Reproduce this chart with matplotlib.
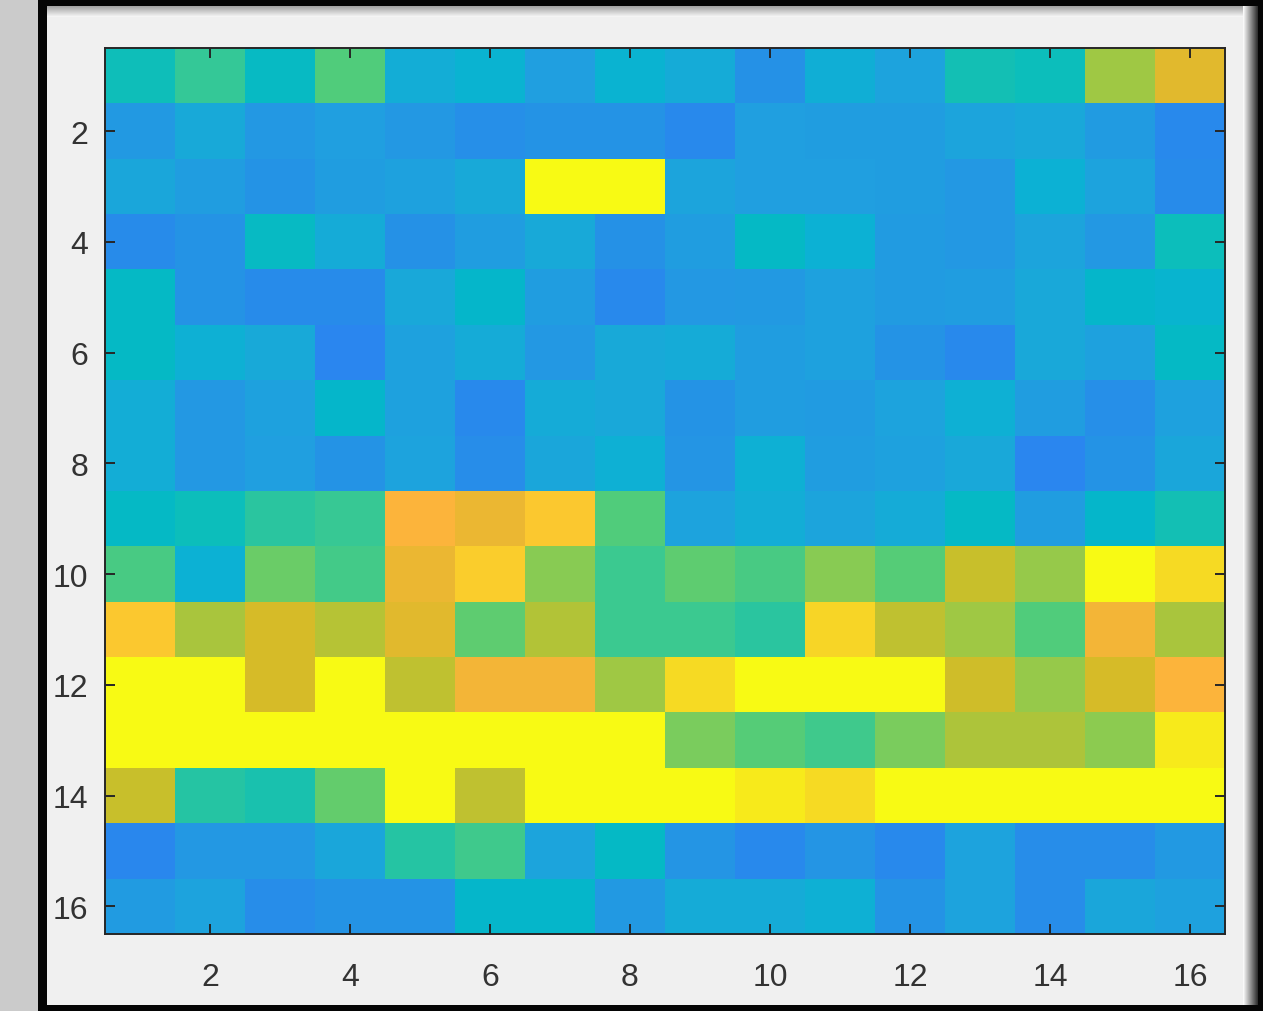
import numpy as np
import matplotlib
matplotlib.use("Agg")
import matplotlib.pyplot as plt
from matplotlib.colors import LinearSegmentedColormap
from matplotlib.patches import Rectangle

# ---- data (16 x 16 matrix, row 1 at top) ----
row01 = [0.35, 0.45, 0.31, 0.52, 0.21, 0.25, 0.13, 0.25, 0.20, 0.06, 0.22, 0.15, 0.37, 0.34, 0.66, 0.82]
row02 = [0.10, 0.19, 0.09, 0.13, 0.09, 0.05, 0.07, 0.07, 0.02, 0.13, 0.12, 0.12, 0.16, 0.18, 0.11, 0.02]
row03 = [0.17, 0.12, 0.07, 0.12, 0.14, 0.19, 1.00, 1.00, 0.16, 0.13, 0.13, 0.12, 0.09, 0.24, 0.15, 0.03]
row04 = [0.03, 0.07, 0.31, 0.20, 0.06, 0.12, 0.19, 0.06, 0.12, 0.30, 0.24, 0.11, 0.09, 0.16, 0.09, 0.34]
row05 = [0.30, 0.07, 0.03, 0.03, 0.18, 0.28, 0.12, 0.02, 0.09, 0.10, 0.14, 0.11, 0.12, 0.18, 0.28, 0.26]
row06 = [0.30, 0.23, 0.19, 0.00, 0.14, 0.20, 0.09, 0.19, 0.20, 0.12, 0.14, 0.07, 0.02, 0.18, 0.14, 0.30]
row07 = [0.21, 0.09, 0.14, 0.28, 0.14, 0.02, 0.20, 0.18, 0.07, 0.12, 0.11, 0.15, 0.23, 0.12, 0.05, 0.14]
row08 = [0.21, 0.09, 0.13, 0.07, 0.15, 0.04, 0.17, 0.23, 0.08, 0.23, 0.12, 0.14, 0.18, 0.00, 0.07, 0.17]
row09 = [0.30, 0.34, 0.43, 0.46, 0.88, 0.84, 0.92, 0.52, 0.15, 0.21, 0.16, 0.20, 0.30, 0.12, 0.28, 0.37]
row10 = [0.50, 0.24, 0.57, 0.49, 0.84, 0.93, 0.61, 0.47, 0.55, 0.50, 0.61, 0.53, 0.75, 0.64, 1.00, 0.96]
row11 = [0.92, 0.68, 0.79, 0.71, 0.82, 0.55, 0.70, 0.47, 0.47, 0.43, 0.95, 0.73, 0.66, 0.52, 0.86, 0.68]
row12 = [1.00, 1.00, 0.79, 1.00, 0.73, 0.86, 0.86, 0.66, 0.96, 1.00, 1.00, 1.00, 0.77, 0.64, 0.79, 0.88]
row13 = [1.00, 1.00, 1.00, 1.00, 1.00, 1.00, 1.00, 1.00, 0.59, 0.53, 0.48, 0.59, 0.69, 0.69, 0.62, 0.98]
row14 = [0.75, 0.42, 0.39, 0.56, 1.00, 0.73, 1.00, 1.00, 1.00, 0.98, 0.96, 1.00, 1.00, 1.00, 1.00, 1.00]
row15 = [0.01, 0.09, 0.09, 0.17, 0.42, 0.48, 0.16, 0.30, 0.08, 0.02, 0.08, 0.02, 0.15, 0.04, 0.04, 0.10]
row16 = [0.11, 0.15, 0.04, 0.07, 0.07, 0.28, 0.28, 0.10, 0.20, 0.20, 0.23, 0.07, 0.15, 0.04, 0.17, 0.14]

ticks = [2, 4, 6, 8, 10, 12, 14, 16]

data = np.array([row01, row02, row03, row04, row05, row06, row07, row08,
                 row09, row10, row11, row12, row13, row14, row15, row16])

# parula-like colormap (upper portion, as seen in the picture)
anchors = [
    (0.00, "#2a86ef"), (0.08, "#2496e4"), (0.13, "#20a0e0"), (0.19, "#18aad8"),
    (0.24, "#0cb2d4"), (0.29, "#04b8c8"), (0.34, "#0cbebc"), (0.40, "#1cc2ac"),
    (0.45, "#34c898"), (0.52, "#50cc7c"), (0.56, "#64cc6c"), (0.61, "#88cc54"),
    (0.66, "#a0c844"), (0.70, "#b2c438"), (0.75, "#c8c02c"), (0.79, "#d6bc28"),
    (0.83, "#e6b830"), (0.88, "#fcb43c"), (0.92, "#fcc830"), (0.96, "#f6da24"),
    (1.00, "#f8fa14"),
]
cmap = LinearSegmentedColormap.from_list("parula_like", anchors, N=512)

W, H = 1263, 1012
fig = plt.figure(figsize=(W / 100, H / 100), dpi=100)
fig.patch.set_facecolor("#f0f0f0")

# ---- window frame decoration (background axes in pixel coords) ----
bg = fig.add_axes([0, 0, 1, 1])
bg.set_xlim(0, W)
bg.set_ylim(H, 0)
bg.axis("off")
bg.add_patch(Rectangle((0, 0), 38, H, color="#cbcbcb", lw=0))
bg.add_patch(Rectangle((38, 0), 9, H, color="#050505", lw=0))
bg.add_patch(Rectangle((38, 0), W - 38, 7, color="#050505", lw=0))
bg.add_patch(Rectangle((38, H - 6), W - 38, 6, color="#050505", lw=0))
# shadow gradients
grad = np.linspace(0, 1, 64)
top_grad = np.vstack([grad, grad]).T
bg.imshow(top_grad, cmap="gray", vmin=-0.6, vmax=1.0, extent=(47, W - 18, 18, 7),
          aspect="auto", alpha=0.55, zorder=2)
right_grad = np.vstack([grad[::-1], grad[::-1]])
bg.imshow(right_grad, cmap="gray", vmin=-0.2, vmax=1.0, extent=(W - 20, W - 5, H - 6, 7),
          aspect="auto", zorder=2)
bg.add_patch(Rectangle((W - 5, 0), 5, H, color="#050505", lw=0, zorder=3))

# ---- main heatmap ----
ax = fig.add_axes([105 / W, (H - 935) / H, 1120 / W, 886 / H])
ax.imshow(data, cmap=cmap, vmin=0, vmax=1, extent=(0.5, 16.5, 16.5, 0.5),
          aspect="auto", interpolation="nearest")
ax.set_xlim(0.5, 16.5)
ax.set_ylim(16.5, 0.5)
ax.set_xticks(ticks)
ax.set_yticks(ticks)
ax.set_xticklabels([str(t) for t in ticks])
ax.set_yticklabels([str(t) for t in ticks])
ax.tick_params(direction="in", length=7, width=1.4, color="#262626",
               top=True, right=True, labelsize=23, labelcolor="#333333")
ax.tick_params(axis="x", pad=20)
ax.tick_params(axis="y", pad=12)
for lab in ax.get_xticklabels() + ax.get_yticklabels():
    lab.set_fontfamily("Liberation Sans")
for sp in ax.spines.values():
    sp.set_color("#262626")
    sp.set_linewidth(1.4)

fig.savefig("out.png", dpi=100, facecolor=fig.get_facecolor())
